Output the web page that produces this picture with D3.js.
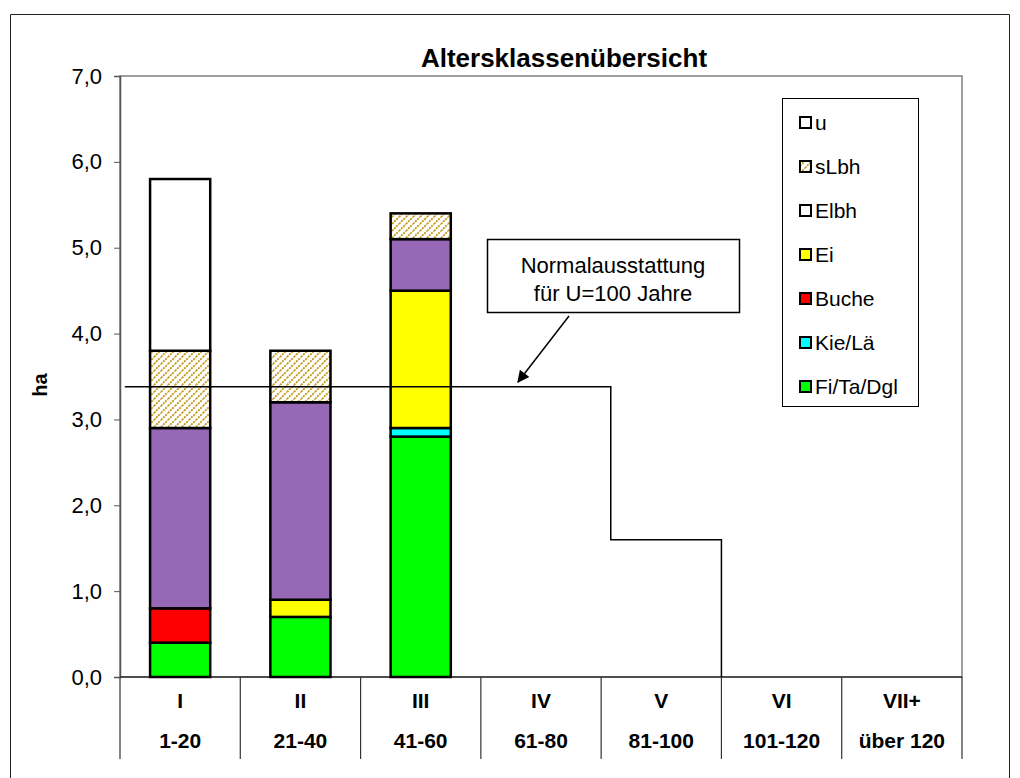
<!DOCTYPE html>
<html>
<head>
<meta charset="utf-8">
<script src="https://cdn.jsdelivr.net/npm/d3@7"></script>
<style>
  html, body { margin: 0; background: #fff; overflow: hidden; }
  svg { display: block; }
  text { font-family: "Liberation Sans", Arial, sans-serif; }
</style>
</head>
<body>
<svg class="visSVG"></svg>
<script>
const svgWidth = 1020;
const svgHeight = 778;

// data
const classes = ["I", "II", "III", "IV", "V", "VI", "VII+"];
const ageRanges = ["1-20", "21-40", "41-60", "61-80", "81-100", "101-120", "über 120"];
// stacked series, bottom to top (ha)
const fiTaDgl = [0.4, 0.7, 2.8, 0, 0, 0, 0];
const kieLae  = [0, 0, 0.1, 0, 0, 0, 0];
const buche   = [0.4, 0, 0, 0, 0, 0, 0];
const ei      = [0, 0.2, 1.6, 0, 0, 0, 0];
const elbh    = [2.1, 2.3, 0.6, 0, 0, 0, 0];
const sLbh    = [0.9, 0.6, 0.3, 0, 0, 0, 0];
const u       = [2.0, 0, 0, 0, 0, 0, 0];
const seriesNames = ["Fi/Ta/Dgl", "Kie/Lä", "Buche", "Ei", "Elbh", "sLbh", "u"];
const legendOrder = ["u", "sLbh", "Elbh", "Ei", "Buche", "Kie/Lä", "Fi/Ta/Dgl"];
const yTicks = [0, 1, 2, 3, 4, 5, 6, 7];
// Normalausstattung step line (x in class units from left edge)
const normalX = [0.04, 4.08, 4.08, 5.0, 5.0];
const normalY = [3.38, 3.38, 1.6, 1.6, 0];

const barColors = {
    "Fi/Ta/Dgl": "#00ff00",
    "Kie/Lä": "#00ffff",
    "Buche": "#ff0000",
    "Ei": "#ffff00",
    "Elbh": "#9768b6",
    "sLbh": "url(#hatch)",
    "u": "#ffffff"
};
const legendColors = Object.assign({}, barColors, { "Elbh": "#ffffff" });

var margin = { top: 76, left: 120, right: 58, bottom: 101 };
var innerWidth = svgWidth - margin.left - margin.right;
var innerHeight = svgHeight - margin.top - margin.bottom;

const svg = d3.select('.visSVG')
    .attr("width", svgWidth)
    .attr("height", svgHeight);

// hatch pattern for sLbh
const defs = svg.append("defs");
const pat = defs.append("pattern")
    .attr("id", "hatch")
    .attr("patternUnits", "userSpaceOnUse")
    .attr("width", 7).attr("height", 7);
pat.append("rect").attr("width", 7).attr("height", 7).attr("fill", "#fff");
pat.append("path")
    .attr("d", "M0,7 L7,0 M-3.5,3.5 L3.5,-3.5 M3.5,10.5 L10.5,3.5")
    .attr("stroke", "#c49a18")
    .attr("stroke-width", 1.8)
    .attr("stroke-dasharray", "2,1");

// outer frame (bottom edge runs off the picture)
svg.append("path")
    .attr("d", "M10.5,778 V14.5 H1009.5 V778")
    .attr("fill", "none").attr("stroke", "#222").attr("stroke-width", 1);

const xScale = d3.scaleBand().domain(classes).range([margin.left, margin.left + innerWidth]);
const xLin = d3.scaleLinear().domain([0, classes.length]).range([margin.left, margin.left + innerWidth]);
const yScale = d3.scaleLinear().domain([0, 7]).range([margin.top + innerHeight, margin.top]);
const y0 = yScale(0);

const de = d3.formatLocale({ decimal: ",", thousands: ".", grouping: [3], currency: ["", "€"] });

// plot area
svg.append("rect")
    .attr("x", margin.left).attr("y", margin.top)
    .attr("width", innerWidth).attr("height", innerHeight)
    .attr("fill", "none").attr("stroke", "#808080").attr("stroke-width", 1.5);

// Y axis
const yAxis = svg.append("g")
    .attr("transform", "translate(" + margin.left + ",0)")
    .call(d3.axisLeft(yScale).tickValues(yTicks).tickSize(6).tickPadding(12).tickFormat(de.format(".1f")));
yAxis.select(".domain").attr("stroke", "#555").attr("stroke-width", 1.5);
yAxis.selectAll(".tick line").attr("stroke", "#555");
yAxis.selectAll("text")
    .attr("font-size", 22)
    .attr("font-family", "Liberation Sans, Arial, sans-serif")
    .attr("fill", "#000");

svg.append("text")
    .attr("transform", "translate(47," + yScale(3.4) + ") rotate(-90)")
    .attr("text-anchor", "middle")
    .attr("font-size", 20)
    .attr("font-weight", "bold")
    .text("ha");

// title
svg.append("text")
    .attr("x", 564).attr("y", 67)
    .attr("text-anchor", "middle")
    .attr("font-size", 26)
    .attr("font-weight", "bold")
    .text("Altersklassenübersicht");

// category table below axis
svg.append("line")
    .attr("x1", margin.left).attr("x2", margin.left + innerWidth)
    .attr("y1", y0).attr("y2", y0)
    .attr("stroke", "#333").attr("stroke-width", 1.5);
svg.selectAll(".sep")
    .data(d3.range(classes.length + 1))
    .enter().append("line")
    .attr("class", "sep")
    .attr("x1", function(d) { return xLin(d); })
    .attr("x2", function(d) { return xLin(d); })
    .attr("y1", y0).attr("y2", y0 + 82)
    .attr("stroke", "#333").attr("stroke-width", 1.2);
svg.selectAll(".cls")
    .data(classes).enter().append("text")
    .attr("class", "cls")
    .attr("x", function(d) { return xScale(d) + xScale.bandwidth() / 2; })
    .attr("y", y0 + 31)
    .attr("text-anchor", "middle")
    .attr("font-size", 21).attr("font-weight", "bold")
    .text(function(d) { return d; });
svg.selectAll(".rng")
    .data(ageRanges).enter().append("text")
    .attr("class", "rng")
    .attr("x", function(d, i) { return xScale(classes[i]) + xScale.bandwidth() / 2; })
    .attr("y", y0 + 71)
    .attr("text-anchor", "middle")
    .attr("font-size", 21).attr("font-weight", "bold")
    .text(function(d) { return d; });

// stacked bars
const seriesValues = [fiTaDgl, kieLae, buche, ei, elbh, sLbh, u];
const rows = classes.map(function(c, i) {
    var row = { cls: c };
    seriesNames.forEach(function(s, j) { row[s] = seriesValues[j][i]; });
    return row;
});
const stacked = d3.stack().keys(seriesNames)(rows);
const barW = xScale.bandwidth() * 0.5;

svg.append("g")
    .selectAll("g")
    .data(stacked).enter().append("g")
    .attr("fill", function(d) { return barColors[d.key]; })
    .selectAll("rect")
    .data(function(d) { return d.filter(function(p) { return p[1] - p[0] > 0; }); })
    .enter().append("rect")
    .attr("x", function(d) { return xScale(d.data.cls) + (xScale.bandwidth() - barW) / 2; })
    .attr("y", function(d) { return yScale(d[1]); })
    .attr("width", barW)
    .attr("height", function(d) { return yScale(d[0]) - yScale(d[1]); })
    .attr("stroke", "#000")
    .attr("stroke-width", 2.5);

// Normalausstattung step line
const stepLine = d3.line()
    .x(function(d) { return xLin(d[0]); })
    .y(function(d) { return yScale(d[1]); });
svg.append("path")
    .datum(normalX.map(function(x, i) { return [x, normalY[i]]; }))
    .attr("d", stepLine)
    .attr("fill", "none")
    .attr("stroke", "#000")
    .attr("stroke-width", 1.5);

// annotation box with arrow
defs.append("marker")
    .attr("id", "arrow")
    .attr("viewBox", "0 0 10 10")
    .attr("refX", 9).attr("refY", 5)
    .attr("markerWidth", 14).attr("markerHeight", 12)
    .attr("markerUnits", "userSpaceOnUse")
    .attr("orient", "auto")
    .append("path").attr("d", "M0,0 L10,5 L0,10 z").attr("fill", "#000");

svg.append("rect")
    .attr("x", 487.5).attr("y", 239.5)
    .attr("width", 252).attr("height", 73)
    .attr("fill", "#fff").attr("stroke", "#000").attr("stroke-width", 1.5);
svg.append("text")
    .attr("x", 613).attr("y", 273)
    .attr("text-anchor", "middle")
    .attr("font-family", "DejaVu Sans, Verdana, sans-serif")
    .attr("font-size", 22)
    .text("Normalausstattung");
svg.append("text")
    .attr("x", 613).attr("y", 301)
    .attr("text-anchor", "middle")
    .attr("font-family", "DejaVu Sans, Verdana, sans-serif")
    .attr("font-size", 22)
    .text("für U=100 Jahre");
svg.append("line")
    .attr("x1", 569).attr("y1", 316)
    .attr("x2", 518).attr("y2", 382)
    .attr("stroke", "#000").attr("stroke-width", 1.5)
    .attr("marker-end", "url(#arrow)");

// legend
svg.append("rect")
    .attr("x", 782.5).attr("y", 98.5)
    .attr("width", 136).attr("height", 308)
    .attr("fill", "#fff").attr("stroke", "#000").attr("stroke-width", 1);
svg.selectAll(".swatch")
    .data(legendOrder).enter().append("rect")
    .attr("class", "swatch")
    .attr("x", 800)
    .attr("y", function(d, i) { return 117 + i * 44; })
    .attr("width", 11).attr("height", 11)
    .attr("fill", function(d) { return legendColors[d]; })
    .attr("stroke", "#000").attr("stroke-width", 2);
svg.selectAll(".legtext")
    .data(legendOrder).enter().append("text")
    .attr("class", "legtext")
    .attr("x", 815)
    .attr("y", function(d, i) { return 130 + i * 44; })
    .attr("font-size", 21)
    .text(function(d) { return d; });
</script>
</body>
</html>
